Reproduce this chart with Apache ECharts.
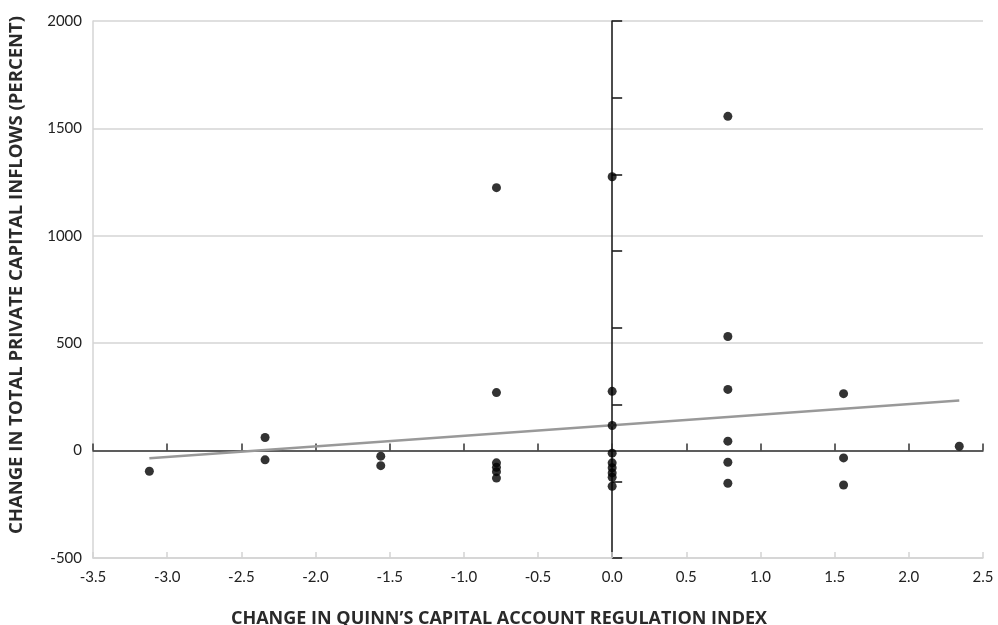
<!DOCTYPE html>
<html>
<head>
<meta charset="utf-8">
<script src="https://cdn.jsdelivr.net/npm/echarts@6/dist/echarts.min.js"></script>
<style>
html,body{margin:0;padding:0;background:#fff;}
#chart{width:998px;height:625px;}
</style>
</head>
<body>
<div id="chart"></div>
<script>
// Change in Quinn's index (x) vs change in private capital inflows, percent (y)
const xValues = [-3.12, -2.34, -2.34, -1.56, -1.56,
  -0.78, -0.78, -0.78, -0.78, -0.78, -0.78,
  0, 0, 0, 0, 0, 0, 0, 0, 0,
  0.78, 0.78, 0.78, 0.78, 0.78, 0.78,
  1.56, 1.56, 1.56,
  2.34];
const yValues = [-96, 61, -43, -26, -70,
  1224, 270, -57, -78, -98, -128,
  1275, 276, 117, -12, -57, -80, -104, -124, -166,
  1556, 531, 285, 44, -54, -152,
  265, -34, -160,
  20];
const trendX = [-3.12, 2.34];
const trendY = [-36, 233];
const xTicks = [-3.5, 2.5, 0.5];   // min, max, step
const yTicks = [-500, 2000, 500];  // min, max, step
const xTitle = 'CHANGE IN QUINN\u2019S CAPITAL ACCOUNT REGULATION INDEX';
const yTitle = 'CHANGE IN TOTAL PRIVATE CAPITAL INFLOWS (PERCENT)';

const points = xValues.map((x, i) => [x, yValues[i]]);
const trend = trendX.map((x, i) => [x, trendY[i]]);

const FONT = 'Lato';
const TITLE_FONT = 'Open Sans';
const chart = echarts.init(document.getElementById('chart'), null, {renderer: 'canvas'});
chart.setOption({
  animation: false,
  backgroundColor: '#fff',
  grid: {left: 93, right: 15, top: 21, bottom: 67, containLabel: false, outerBoundsMode: 'none'},
  graphic: [{
    type: 'text', x: 17, y: 275, rotation: Math.PI / 2,
    style: {text: yTitle, fill: '#2a2a2a', fontFamily: TITLE_FONT, fontWeight: 'bold', fontSize: 18.5,
      align: 'center', verticalAlign: 'middle'}
  }],
  xAxis: [{
    type: 'value', position: 'bottom',
    min: xTicks[0], max: xTicks[1], interval: xTicks[2],
    axisLine: {show: true, onZero: false, lineStyle: {color: '#d4d4d4', width: 1.5}},
    axisTick: {show: true, inside: true, length: 6, lineStyle: {color: '#d4d4d4', width: 1.5}},
    axisLabel: {color: '#222', fontFamily: FONT, fontSize: 15, margin: 12,
      formatter: v => v.toFixed(1)},
    splitLine: {show: false},
    name: xTitle, nameLocation: 'middle', nameGap: 52,
    nameTextStyle: {color: '#2a2a2a', fontFamily: TITLE_FONT, fontWeight: 'bold', fontSize: 18,
      padding: [0, 78, 0, 0]}
  }, {
    type: 'value', position: 'bottom',
    min: xTicks[0], max: xTicks[1], interval: xTicks[2],
    axisLine: {show: true, onZero: true, onZeroAxisIndex: 0, lineStyle: {color: '#333', width: 1.5}},
    axisTick: {show: true, inside: true, length: 7, lineStyle: {color: '#333', width: 1.5}},
    axisLabel: {show: false},
    splitLine: {show: false}
  }],
  yAxis: [{
    type: 'value', position: 'left',
    min: yTicks[0], max: yTicks[1], interval: yTicks[2],
    axisLine: {show: true, onZero: false, lineStyle: {color: '#d4d4d4', width: 1.5}},
    axisTick: {show: false},
    axisLabel: {color: '#222', fontFamily: FONT, fontSize: 15, margin: 11,
      formatter: v => String(v)},
    splitLine: {show: true, lineStyle: {color: '#d4d4d4', width: 1.5}}
  }, {
    type: 'value', position: 'left',
    min: 0, max: 7, interval: 1,
    axisLine: {show: true, onZero: true, onZeroAxisIndex: 0, lineStyle: {color: '#111', width: 1.5}},
    axisTick: {show: true, inside: true, length: 10, lineStyle: {color: '#111', width: 1.5}},
    axisLabel: {show: false},
    splitLine: {show: false}
  }],
  series: [{
    type: 'line', xAxisIndex: 0, yAxisIndex: 0,
    data: trend, showSymbol: false, symbol: 'none',
    lineStyle: {color: '#999', width: 2.5}, z: 3
  }, {
    type: 'scatter', xAxisIndex: 0, yAxisIndex: 0,
    data: points, symbol: 'circle', symbolSize: 9,
    itemStyle: {color: '#000'}, z: 4
  }]
});
</script>
</body>
</html>
